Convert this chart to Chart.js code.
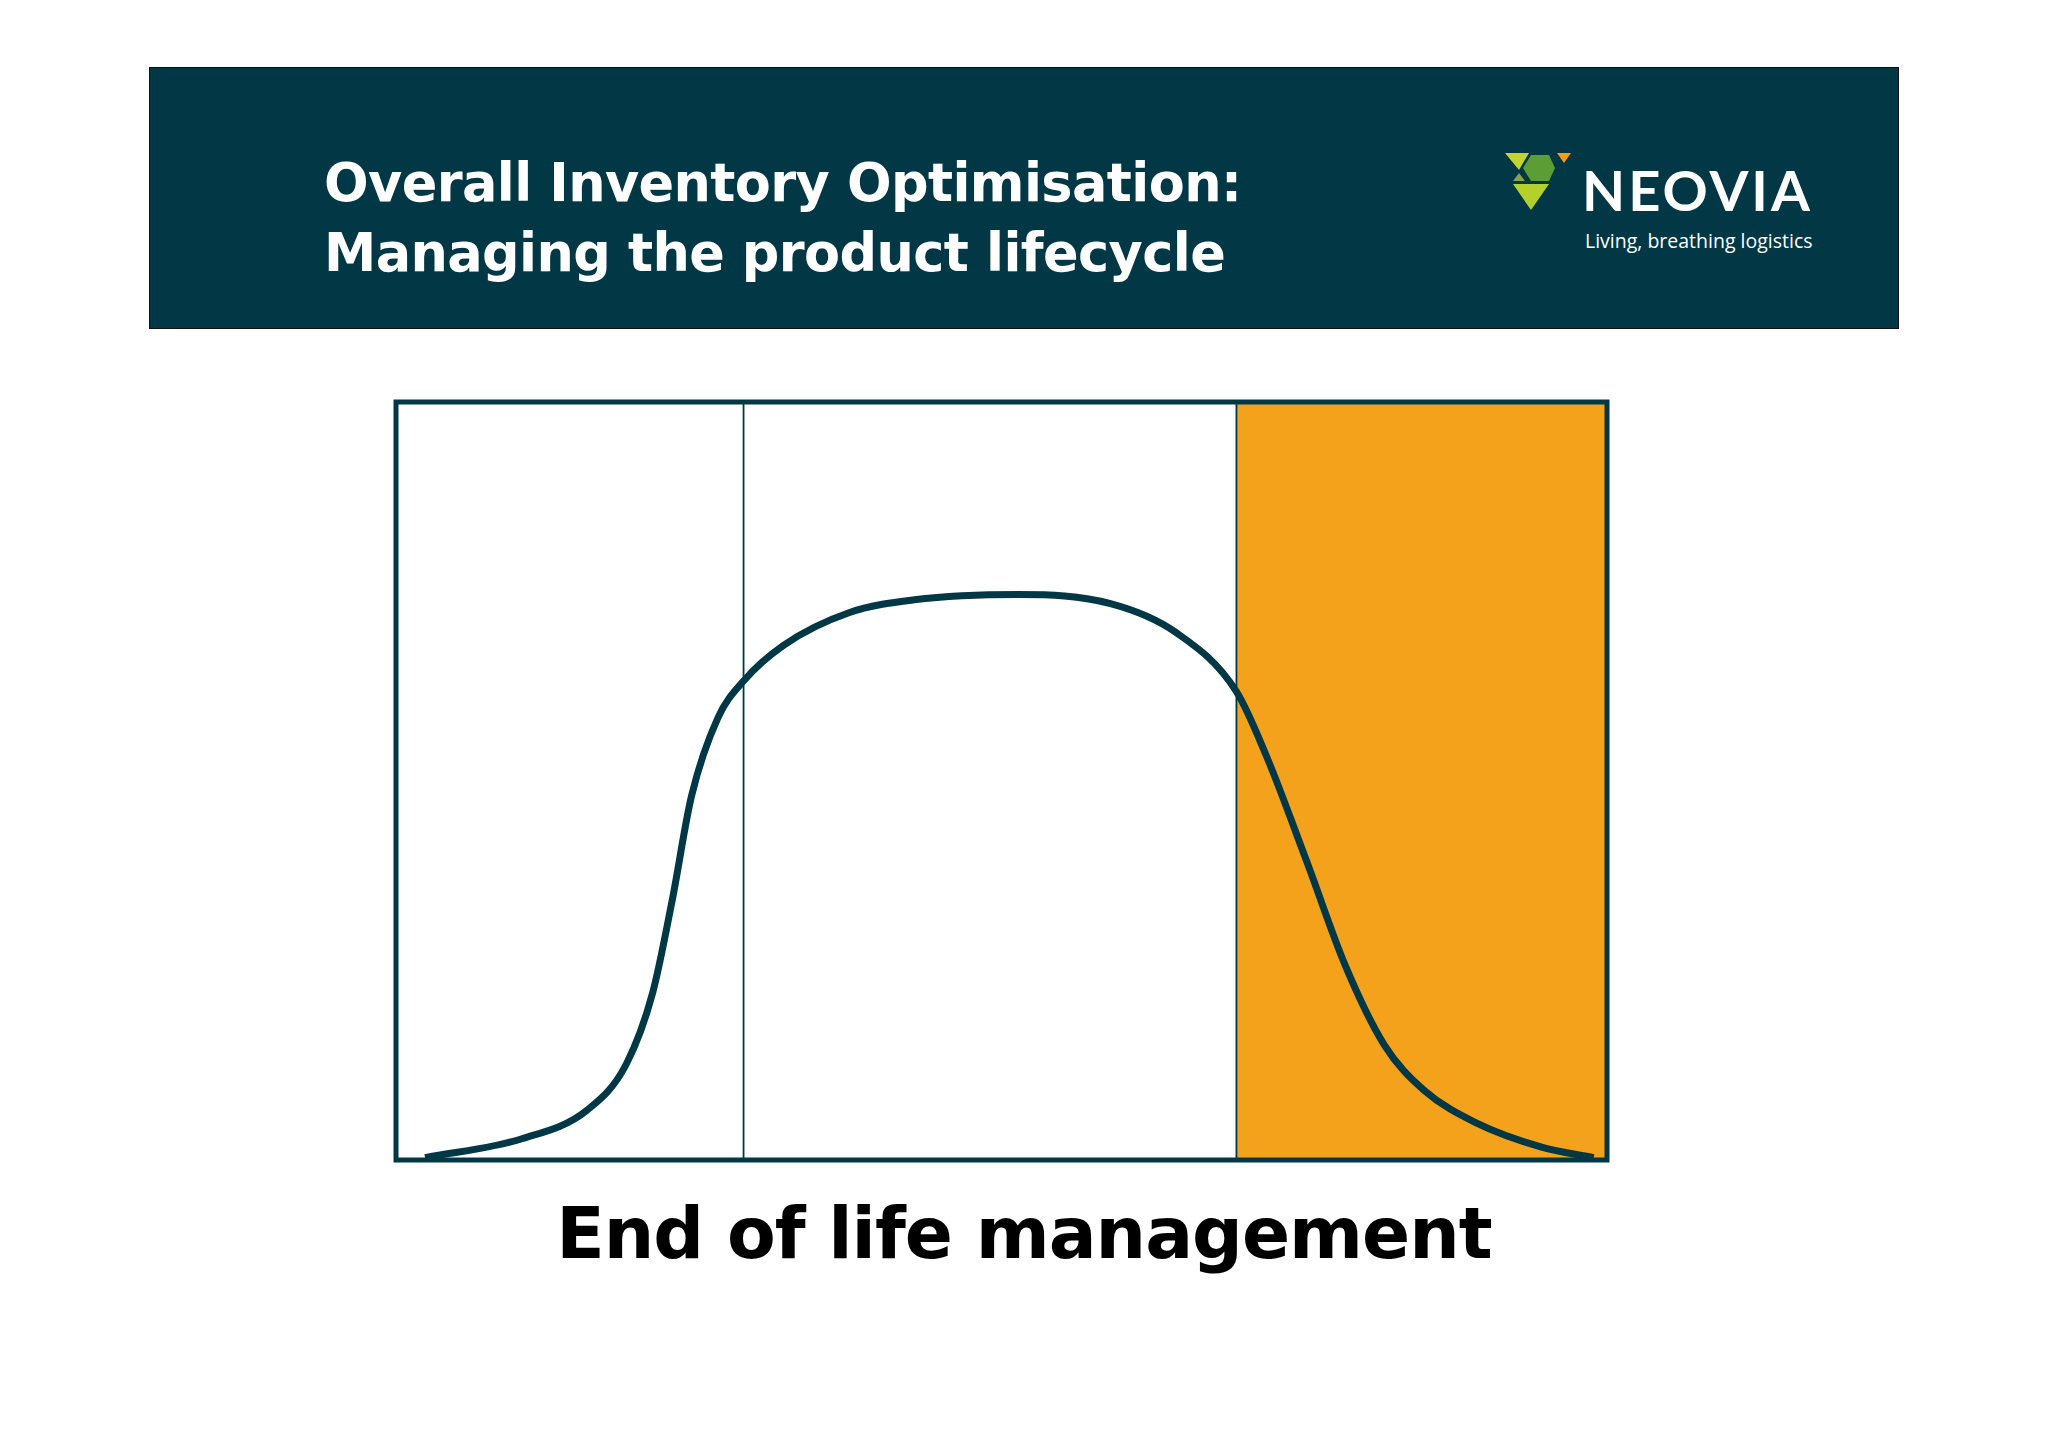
<!DOCTYPE html><html><head><meta charset="utf-8">
<script src="https://cdn.jsdelivr.net/npm/chart.js@4"></script>
<style>
body{margin:0;width:2048px;height:1447px;background:#fff;position:relative;overflow:hidden;font-family:"DejaVu Sans",Verdana,sans-serif}
#hdr{position:absolute;left:149px;top:67px;width:1750px;height:262px;background:#023845;border:1px solid #111;box-sizing:border-box}
#t{position:absolute;left:324px;top:148px;color:#fff;font-weight:bold;font-size:52.5px;line-height:70px;letter-spacing:-0.6px}
#neo{position:absolute;left:1582px;top:158px;color:#fff;font-family:Lato,"Open Sans",sans-serif;font-weight:bold;font-size:56px;letter-spacing:3px;line-height:64px}
#tag{position:absolute;left:1585px;top:227px;color:#fff;font-family:"Open Sans",sans-serif;font-size:19.5px}
#logo{position:absolute;left:1505px;top:153px}
#wrap{position:absolute;left:390px;top:396px;width:1223px;height:770px}
#bt{position:absolute;left:0;width:2048px;top:1192px;text-align:center;font-weight:bold;font-size:71px;color:#000;letter-spacing:-1px}
</style></head><body>
<div id="hdr"></div>
<div id="t">Overall Inventory Optimisation:<br>Managing the product lifecycle</div>
<svg id="logo" width="70" height="60" viewBox="0 0 70 60">
<polygon points="0,0 24,0 14,17" fill="#c1d42f"/>
<polygon points="18,15 26,2 44,2 50,15 44,28 26,28" fill="#5d9d35"/>
<polygon points="14,20 20,28 8,28" fill="#8aa04a"/>
<polygon points="8,31 44,31 26,57" fill="#b5cf2b"/>
<polygon points="52,0 66,0 59,10" fill="#f39c19"/>
</svg>
<div id="neo">NEOVIA</div>
<div id="tag">Living, breathing logistics</div>
<div id="wrap"><canvas id="c"></canvas></div>
<div id="bt">End of life management</div>
<script>
const curveX=[2.4,10.4,15.8,19.0,21.2,22.8,24.4,26.6,28.7,32.0,37.4,42.8,51.4,59.0,64.4,69.4,71.9,75.2,78.4,81.6,84.9,89.2,94.6,98.9];
const curveY=[0.3,2.8,6.6,12.6,22.1,34.2,48.0,58.4,63.2,67.9,72.2,73.9,74.6,73.4,69.6,61.8,53.2,39.4,25.6,15.2,9.2,4.9,1.7,0.3];
const stageBounds=[28.7,69.4];
const C='#023845';
const frame={id:'frame',beforeDatasetsDraw(ch){const {ctx,chartArea:a,scales:{x}}=ch;
 const xo=x.getPixelForValue(stageBounds[1]);
 ctx.save();ctx.fillStyle='#f4a11c';ctx.fillRect(xo,a.top,a.right-xo,a.bottom-a.top);
 ctx.strokeStyle=C;ctx.lineWidth=1.8;
 stageBounds.forEach(v=>{const p=x.getPixelForValue(v);ctx.beginPath();ctx.moveTo(p,a.top);ctx.lineTo(p,a.bottom);ctx.stroke();});
 ctx.lineWidth=5;ctx.strokeRect(a.left,a.top,a.right-a.left,a.bottom-a.top);ctx.restore();}};
new Chart(document.getElementById('c'),{type:'scatter',
 data:{datasets:[{data:curveX.map((v,i)=>({x:v,y:curveY[i]})),showLine:true,borderColor:C,borderWidth:7,pointRadius:0,tension:0.4,cubicInterpolationMode:'monotone',clip:false}]},
 options:{responsive:true,maintainAspectRatio:false,animation:false,layout:{padding:6},
 plugins:{legend:{display:false},tooltip:{enabled:false}},
 scales:{x:{display:false,min:0,max:100},y:{display:false,min:0,max:100}}},plugins:[frame]});
</script></body></html>
